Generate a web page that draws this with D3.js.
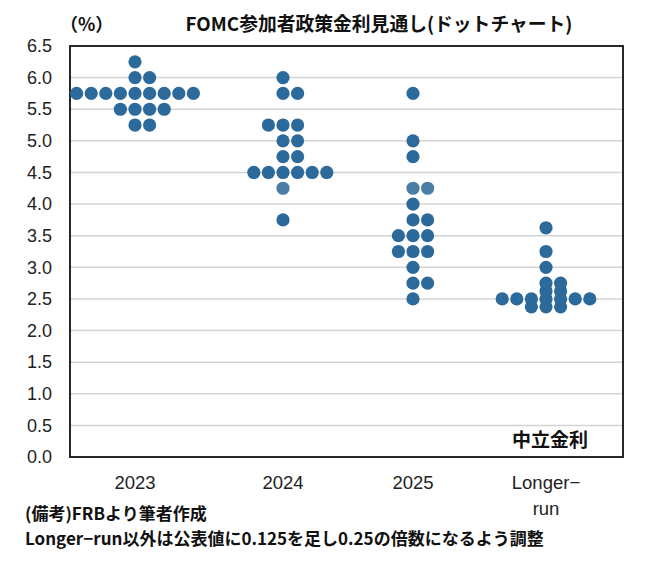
<!DOCTYPE html>
<html><head><meta charset="utf-8">
<script src="https://cdn.jsdelivr.net/npm/d3@7"></script>
<style>
body{margin:0;background:#fff;}
text{font-family:"Noto Sans CJK JP","Liberation Sans",sans-serif;}
</style></head>
<body><svg id="c" width="645" height="561"></svg>
<script>
const categories = ["2023","2024","2025","Longer-run"];
const rates2023 = [6.25, 6.0, 5.75, 5.5, 5.25];
const counts2023 = [1, 2, 9, 4, 2];
const rates2024 = [6.0, 5.75, 5.25, 5.0, 4.75, 4.5, 4.25, 3.75];
const counts2024 = [1, 2, 3, 2, 2, 6, 1, 1];
const rates2025 = [5.75, 5.0, 4.75, 4.25, 4.0, 3.75, 3.5, 3.25, 3.0, 2.75, 2.5];
const counts2025 = [1, 1, 1, 2, 1, 2, 3, 3, 1, 2, 1];
const ratesLR = [3.625, 3.25, 3.0, 2.75, 2.625, 2.5, 2.375];
const countsLR = [1, 1, 1, 2, 2, 7, 3];
const yTicks = [0,0.5,1,1.5,2,2.5,3,3.5,4,4.5,5,5.5,6,6.5];

const svg = d3.select("#c");
const L = 70, R = 623, T = 46, B = 457;
const y = d3.scaleLinear().domain([0, 6.5]).range([B, T]);
const x = d3.scaleOrdinal().domain(categories).range([135, 283, 413, 546]);
const step = 14.6, rad = 6.6;
const numFont = "'Liberation Sans', Arial, sans-serif";

// gridlines
svg.append("g").selectAll("line").data(yTicks.filter(d => d > 0 && d < 6.5)).join("line")
  .attr("x1", L).attr("x2", R).attr("y1", d => y(d)).attr("y2", d => y(d))
  .attr("stroke", "#d4d4d4").attr("stroke-width", 1.5);

// y axis labels
const yAxis = d3.axisLeft(y).tickValues(yTicks).tickFormat(d3.format(".1f")).tickSize(0).tickPadding(18);
const ga = svg.append("g").attr("transform", `translate(${L},0)`).call(yAxis);
ga.select(".domain").remove();
ga.selectAll("text").attr("font-size", 18).attr("fill", "#222")
  .style("font-family", numFont);

// frame
svg.append("rect").attr("x", L).attr("y", T).attr("width", R - L).attr("height", B - T)
  .attr("fill", "none").attr("stroke", "#111").attr("stroke-width", 1.8);

// dots
const sets = [[rates2023, counts2023], [rates2024, counts2024], [rates2025, counts2025], [ratesLR, countsLR]];
const dots = [];
sets.forEach(([rs, cs], ci) => {
  rs.forEach((r, i) => {
    const n = cs[i];
    const start = -Math.floor((n - 1) / 2);
    for (let k = 0; k < n; k++) dots.push({cat: categories[ci], rate: r, off: start + k});
  });
});
svg.append("g").selectAll("circle").data(dots).join("circle")
  .attr("cx", d => x(d.cat) + d.off * step)
  .attr("cy", d => y(d.rate))
  .attr("r", rad)
  .attr("fill", d => (d.rate === 4.25 && d.cat !== "Longer-run") ? "#4a7ea6" : "#2d6a9c");

// x labels
const xl = svg.append("g").style("font-family", numFont);
function xt(c, label, yy) {
  xl.append("text").attr("x", x(c)).attr("y", yy).attr("text-anchor", "middle")
    .attr("font-size", 18.5).attr("fill", "#222").style("font-family", numFont).text(label);
}
categories.forEach(c => {
  if (c === "Longer-run") { xt(c, "Longer−", 489); xt(c, "run", 515); }
  else xt(c, c, 489);
});

// titles / annotations
svg.append("text").attr("x", 60).attr("y", 31).attr("font-size", 18).attr("font-weight", "bold").attr("fill", "#111").text("（%）");
svg.append("text").attr("x", 379).attr("y", 31).attr("text-anchor", "middle").attr("font-size", 18.8).attr("font-weight", "bold").attr("fill", "#111").text("FOMC参加者政策金利見通し(ドットチャート)");
svg.append("text").attr("x", 550).attr("y", 447).attr("text-anchor", "middle").attr("font-size", 19).attr("font-weight", "bold").attr("fill", "#111").text("中立金利");
svg.append("text").attr("x", 25).attr("y", 520).attr("font-size", 17).attr("font-weight", "bold").attr("fill", "#111").text("(備考)FRBより筆者作成");
svg.append("text").attr("x", 25).attr("y", 545).attr("font-size", 17).attr("font-weight", "bold").attr("fill", "#111").text("Longer−run以外は公表値に0.125を足し0.25の倍数になるよう調整");
</script></body></html>
